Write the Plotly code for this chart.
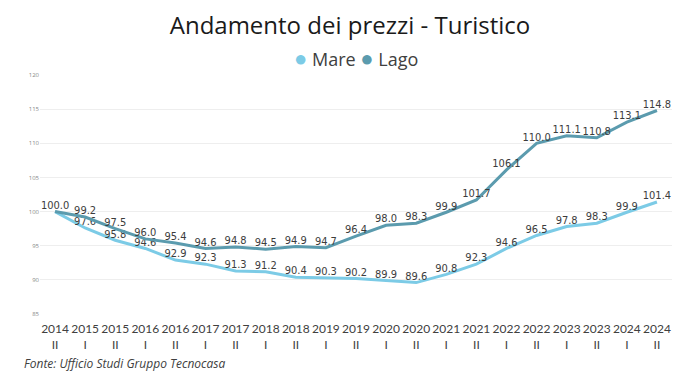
import plotly.graph_objects as go

years = ["2014", "2015", "2015", "2016", "2016", "2017", "2017", "2018", "2018", "2019",
         "2019", "2020", "2020", "2021", "2021", "2022", "2022", "2023", "2023", "2024", "2024"]
halves = ["II", "I", "II", "I", "II", "I", "II", "I", "II", "I",
          "II", "I", "II", "I", "II", "I", "II", "I", "II", "I", "II"]
categories = [f"{y}<br>{h}" for y, h in zip(years, halves)]

mare = [100.0, 97.6, 95.8, 94.6, 92.9, 92.3, 91.3, 91.2, 90.4, 90.3, 90.2,
        89.9, 89.6, 90.8, 92.3, 94.6, 96.5, 97.8, 98.3, 99.9, 101.4]
lago = [100.0, 99.2, 97.5, 96.0, 95.4, 94.6, 94.8, 94.5, 94.9, 94.7, 96.4,
        98.0, 98.3, 99.9, 101.7, 106.1, 110.0, 111.1, 110.8, 113.1, 114.8]

c_mare = "#7ccbe6"
c_lago = "#5b9bae"
label_font = dict(family="DejaVu Sans Condensed, DejaVu Sans, sans-serif", size=11, color="#3c3c3c")

idx = list(range(len(categories)))
mare_text = [""] + [f"{v:.1f}" for v in mare[1:]]
lago_text = [f"{v:.1f}" for v in lago]

fig = go.Figure()
fig.add_trace(go.Scatter(x=idx, y=mare, mode="lines+text", text=mare_text, name="Mare",
                         textposition="top center", textfont=label_font,
                         line=dict(color=c_mare, width=3), showlegend=False, hoverinfo="skip"))
fig.add_trace(go.Scatter(x=idx, y=lago, mode="lines+text", text=lago_text, name="Lago",
                         textposition="top center", textfont=label_font,
                         line=dict(color=c_lago, width=3), showlegend=False, hoverinfo="skip"))

legend_text = (f"<span style='color:{c_mare};font-size:22px'>●</span> Mare "
               f"<span style='color:{c_lago};font-size:22px'>●</span> Lago")

fig.update_layout(
    width=700, height=381,
    margin=dict(l=40, r=28, t=75, b=67, autoexpand=False),
    paper_bgcolor="white", plot_bgcolor="white",
    font=dict(family="Open Sans, Noto Sans, sans-serif", color="#333333"),
    title=dict(text="Andamento dei prezzi - Turistico", x=0.5, xanchor="center",
               y=0.934, yanchor="middle",
               font=dict(family="Open Sans, Noto Sans, sans-serif", size=24, color="#1a1a1a")),
    showlegend=False,
    hovermode=False,
    xaxis=dict(tickmode="array", tickvals=idx, ticktext=categories, automargin=False,
               range=[-0.5, len(categories) - 0.5], showgrid=False, zeroline=False,
               showline=False, ticks="", ticklabelstandoff=6,
               tickfont=dict(family="Lato, Open Sans, sans-serif", size=12, color="#404040")),
    yaxis=dict(range=[85, 120], dtick=5, showgrid=True, gridcolor="#eeeeee", gridwidth=1,
               zeroline=False, showline=False, ticks="", automargin=False,
               tickfont=dict(size=6, color="#888888")),
    annotations=[
        dict(text=legend_text, xref="paper", yref="paper", x=0.5, y=1 + (75 - 57) / 239,
             xanchor="center", yanchor="middle", showarrow=False,
             font=dict(family="Open Sans, Noto Sans, sans-serif", size=18, color="#404040")),
        dict(text="<i>Fonte: Ufficio Studi Gruppo Tecnocasa</i>", xref="paper", yref="paper",
             x=-0.029, y=-(363 - 314) / 239, xanchor="left", yanchor="middle", showarrow=False,
             font=dict(family="Open Sans, Noto Sans, sans-serif", size=12, color="#404040")),
    ],
)

fig.write_html("out.html", config={"displayModeBar": False},
               post_script="document.body.style.margin='0';")
